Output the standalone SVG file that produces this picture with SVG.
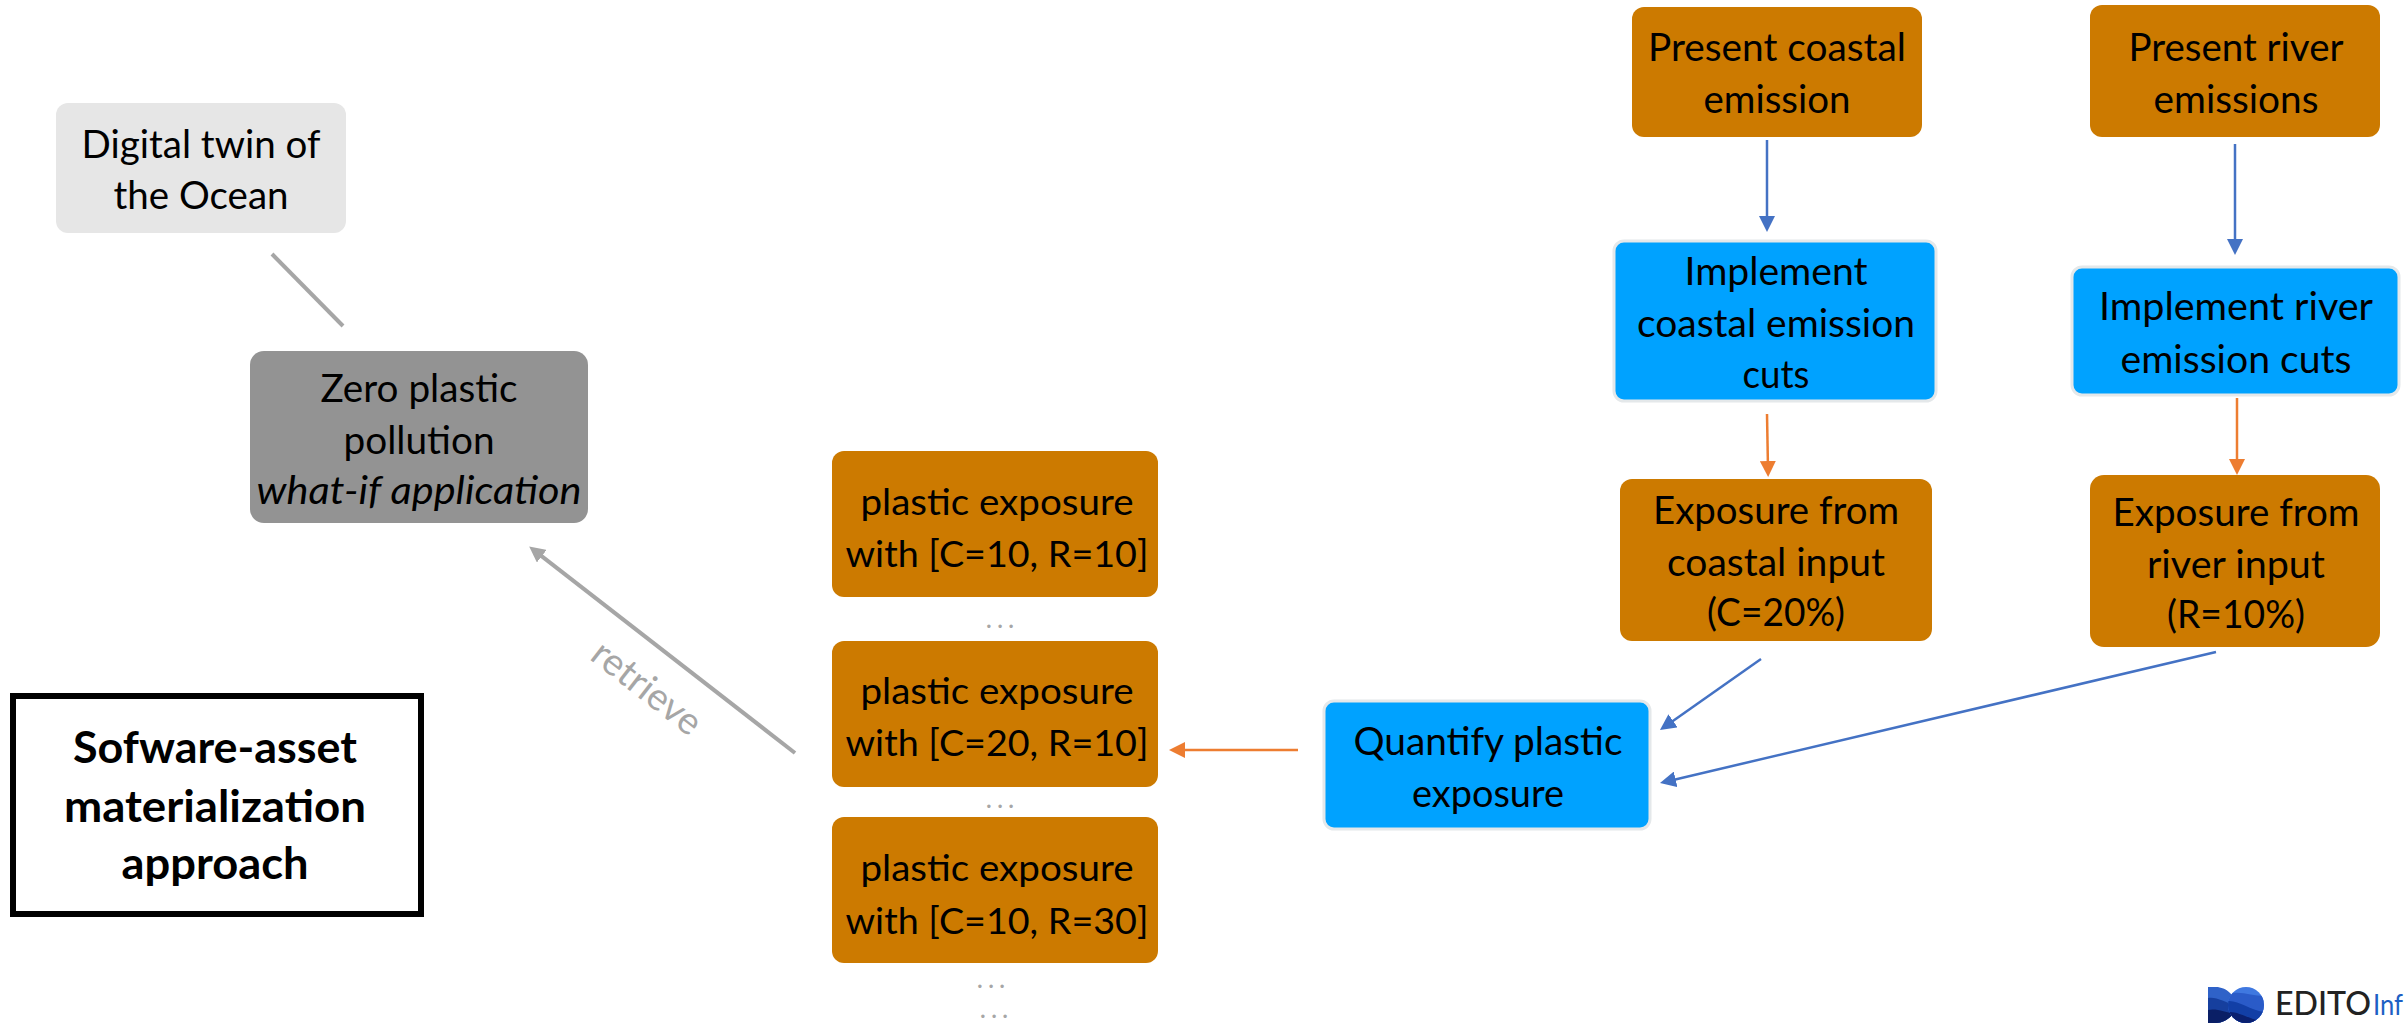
<svg xmlns="http://www.w3.org/2000/svg" width="2405" height="1023" viewBox="0 0 2405 1023">
<style>
text{font-family:Lato,"Open Sans","Liberation Sans",sans-serif;font-size:38px;fill:#000;text-anchor:middle}
g text{transform:translateY(1px)}
.p{font-size:36px}
.h{font-size:43px;font-weight:700}
.or{fill:#cc7a00}
.bl{fill:#00a2ff;stroke:#e4e8ea;stroke-width:3}
.ln{fill:none}
.b{stroke:#4472c4;stroke-width:2.5}
.o{stroke:#ed7d31;stroke-width:2.5}
.g{stroke:#a6a6a6;stroke-width:4}
.dots{fill:#a6a6a6;font-size:22px;font-weight:700;letter-spacing:6px}
</style>
<defs>
<marker id="mb" viewBox="0 0 16 16" refX="8" refY="8" markerWidth="16" markerHeight="16" markerUnits="userSpaceOnUse" orient="auto"><path d="M0,0L16,8L0,16Z" fill="#4472c4"/></marker>
<marker id="mo" viewBox="0 0 16 16" refX="8" refY="8" markerWidth="16" markerHeight="16" markerUnits="userSpaceOnUse" orient="auto"><path d="M0,0L16,8L0,16Z" fill="#ed7d31"/></marker>
<marker id="mg" viewBox="0 0 16 16" refX="8" refY="8" markerWidth="16" markerHeight="16" markerUnits="userSpaceOnUse" orient="auto"><path d="M0,0L16,8L0,16Z" fill="#a6a6a6"/></marker>
<clipPath id="cl1"><path d="M2208,987H2216C2226,987 2236,996 2236,1005C2236,1014 2226,1023 2216,1023H2208Z"/></clipPath>
<clipPath id="cl2"><circle cx="2246" cy="1005" r="18"/></clipPath>
</defs>
<g id="connectors">
<path class="ln g" d="M272,254L343,326"/>
<path class="ln g" d="M795,753L535.5,551.3" marker-end="url(#mg)"/>
<path class="ln b" d="M1767,140V224" marker-end="url(#mb)"/>
<path class="ln b" d="M2235,144V247" marker-end="url(#mb)"/>
<path class="ln o" d="M1767,414L1768,469" marker-end="url(#mo)"/>
<path class="ln o" d="M2237,398V467" marker-end="url(#mo)"/>
<path class="ln b" d="M1761,659L1666.5,725.4" marker-end="url(#mb)"/>
<path class="ln b" d="M2216,652L1667.8,781.2" marker-end="url(#mb)"/>
<path class="ln o" d="M1298,750H1177" marker-end="url(#mo)"/>
</g>
<text transform="translate(639,698) rotate(38)" textLength="128" lengthAdjust="spacingAndGlyphs" style="fill:#a6a6a6">retrieve</text>
<g id="digital-twin"><rect x="56" y="103" width="290" height="130" rx="12" fill="#e6e6e6"/><text x="201" y="157" textLength="239" lengthAdjust="spacingAndGlyphs">Digital twin of</text><text x="201" y="208" textLength="175" lengthAdjust="spacingAndGlyphs">the Ocean</text></g>
<g id="zero-plastic"><rect x="250" y="351" width="338" height="172" rx="14" fill="#939393"/><text x="419" y="401" textLength="197" lengthAdjust="spacingAndGlyphs">Zero plastic</text><text x="419" y="453" textLength="151" lengthAdjust="spacingAndGlyphs">pollution</text><text x="419" y="503" font-style="italic" textLength="325" lengthAdjust="spacingAndGlyphs">what-if application</text></g>
<g id="software-asset"><rect x="13" y="696" width="408" height="218" fill="#fff" stroke="#000" stroke-width="6"/><text class="h" x="215" y="762" textLength="284" lengthAdjust="spacingAndGlyphs">Sofware-asset</text><text class="h" x="215" y="821" textLength="302" lengthAdjust="spacingAndGlyphs">materialization</text><text class="h" x="215" y="878" textLength="187" lengthAdjust="spacingAndGlyphs">approach</text></g>
<g id="exposure-1"><rect class="or" x="832" y="451" width="326" height="146" rx="12"/><text class="p" x="997" y="514" textLength="273" lengthAdjust="spacingAndGlyphs">plastic exposure</text><text class="p" x="997" y="566" textLength="303" lengthAdjust="spacingAndGlyphs">with [C=10, R=10]</text></g>
<text class="dots" x="1003" y="628">...</text>
<g id="exposure-2"><rect class="or" x="832" y="641" width="326" height="146" rx="12"/><text class="p" x="997" y="703" textLength="273" lengthAdjust="spacingAndGlyphs">plastic exposure</text><text class="p" x="997" y="755" textLength="303" lengthAdjust="spacingAndGlyphs">with [C=20, R=10]</text></g>
<text class="dots" x="1003" y="808">...</text>
<g id="exposure-3"><rect class="or" x="832" y="817" width="326" height="146" rx="12"/><text class="p" x="997" y="880" textLength="273" lengthAdjust="spacingAndGlyphs">plastic exposure</text><text class="p" x="997" y="933" textLength="303" lengthAdjust="spacingAndGlyphs">with [C=10, R=30]</text></g>
<text class="dots" x="994" y="988">...</text>
<text class="dots" x="997" y="1018">...</text>
<g id="quantify"><rect class="bl" x="1324" y="701" width="326" height="128" rx="10"/><text x="1488" y="754" textLength="269" lengthAdjust="spacingAndGlyphs">Quantify plastic</text><text x="1488" y="806" textLength="152" lengthAdjust="spacingAndGlyphs">exposure</text></g>
<g id="present-coastal"><rect class="or" x="1632" y="7" width="290" height="130" rx="12"/><text x="1777" y="60" textLength="258" lengthAdjust="spacingAndGlyphs">Present coastal</text><text x="1777" y="112" textLength="147" lengthAdjust="spacingAndGlyphs">emission</text></g>
<g id="present-river"><rect class="or" x="2090" y="5" width="290" height="132" rx="12"/><text x="2236" y="60" textLength="215" lengthAdjust="spacingAndGlyphs">Present river</text><text x="2236" y="112" textLength="165" lengthAdjust="spacingAndGlyphs">emissions</text></g>
<g id="implement-coastal"><rect class="bl" x="1614" y="241" width="322" height="160" rx="10"/><text x="1776" y="284" textLength="183" lengthAdjust="spacingAndGlyphs">Implement</text><text x="1776" y="336" textLength="278" lengthAdjust="spacingAndGlyphs">coastal emission</text><text x="1776" y="387" textLength="67" lengthAdjust="spacingAndGlyphs">cuts</text></g>
<g id="implement-river"><rect class="bl" x="2072" y="267" width="327" height="128" rx="10"/><text x="2236" y="319" textLength="274" lengthAdjust="spacingAndGlyphs">Implement river</text><text x="2236" y="372" textLength="231" lengthAdjust="spacingAndGlyphs">emission cuts</text></g>
<g id="exposure-coastal"><rect class="or" x="1620" y="479" width="312" height="162" rx="12"/><text x="1776" y="523" textLength="246" lengthAdjust="spacingAndGlyphs">Exposure from</text><text x="1776" y="575" textLength="218" lengthAdjust="spacingAndGlyphs">coastal input</text><text x="1776" y="625" textLength="138" lengthAdjust="spacingAndGlyphs">(C=20%)</text></g>
<g id="exposure-river"><rect class="or" x="2090" y="475" width="290" height="172" rx="14"/><text x="2236" y="525" textLength="247" lengthAdjust="spacingAndGlyphs">Exposure from</text><text x="2236" y="577" textLength="178" lengthAdjust="spacingAndGlyphs">river input</text><text x="2236" y="627" textLength="138" lengthAdjust="spacingAndGlyphs">(R=10%)</text></g>
<g id="logo">
<g clip-path="url(#cl1)"><rect x="2208" y="987" width="30" height="36" fill="#2f62c8"/><path d="M2208,998C2216,996 2226,1003 2238,1006V1023H2208Z" fill="#163f9e"/><path d="M2208,1010C2216,1008 2226,1012 2238,1015V1023H2208Z" fill="#0a1f66"/></g>
<g clip-path="url(#cl2)"><rect x="2228" y="987" width="36" height="36" fill="#3f78e0"/><path d="M2228,994C2240,990 2252,996 2264,996V1023H2228Z" fill="#2a5bc8"/><path d="M2228,1001C2238,1000 2250,1010 2264,1012V1023H2228Z" fill="#123fa6"/><path d="M2228,1012C2238,1011 2246,1018 2264,1022V1023H2228Z" fill="#0a2070"/></g>
<text x="2275" y="1014" textLength="96" lengthAdjust="spacingAndGlyphs" style="text-anchor:start;font-size:32px;fill:#222;font-weight:500">EDITO</text>
<text x="2373" y="1014" textLength="30" lengthAdjust="spacingAndGlyphs" style="text-anchor:start;font-size:29px;fill:#1d5fc4">Inf</text>
</g>
</svg>
